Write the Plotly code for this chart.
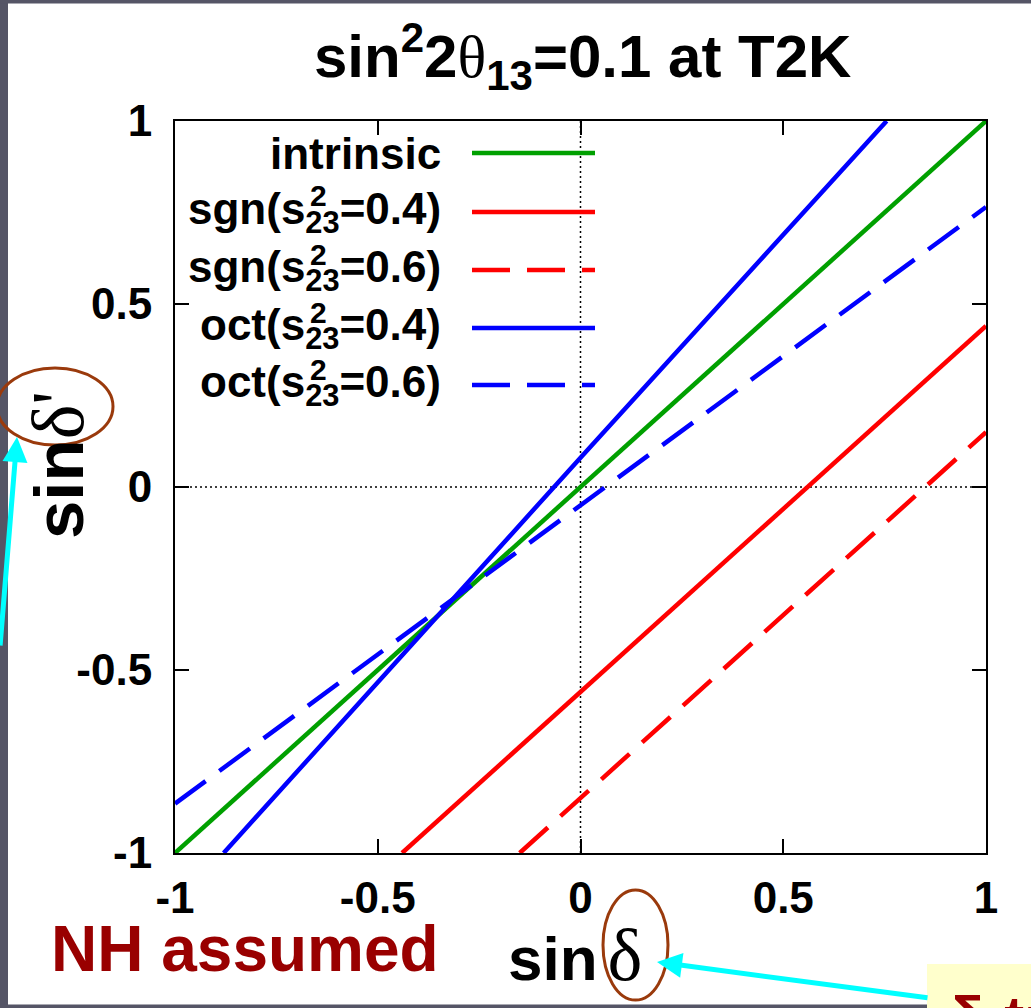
import plotly.graph_objects as go

# ---------------- data ----------------
intrinsic_x = [-1.0, 0.0, 1.0]
intrinsic_y = [-1.0, 0.0, 1.0]

sgn04_x = [-0.44, 0.0, 0.56, 1.0]
sgn04_y = [-1.0, -0.56, 0.0, 0.44]

sgn06_x = [-0.15, 0.0, 0.85, 1.0]
sgn06_y = [-1.0, -0.85, 0.0, 0.15]

oct04_x = [-0.88, -0.35, 0.0, 0.755]
oct04_y = [-1.0, -0.35, 0.08, 1.0]

oct06_x = [-1.0, -0.35, 0.0, 1.0]
oct06_y = [-0.865, -0.335, -0.05, 0.765]

series_names = ["intrinsic", "sgn(s23=0.4)", "sgn(s23=0.6)", "oct(s23=0.4)", "oct(s23=0.6)"]
legend_prefix = ["intrinsic", "sgn(s", "sgn(s", "oct(s", "oct(s"]
legend_suffix = ["", "=0.4)", "=0.6)", "=0.4)", "=0.6)"]

tick_vals = [-1, -0.5, 0, 0.5, 1]
tick_text = ["-1", "-0.5", "0", "0.5", "1"]

# ---------------- styles ----------------
GREEN = "#00a000"
RED = "#ff0000"
BLUE = "#0000ff"
DASH = "38px,17px"
LW = 4.5
colors = [GREEN, RED, RED, BLUE, BLUE]
dashes = ["solid", "solid", DASH, "solid", DASH]

SANS = "Liberation Sans, Arial, sans-serif"

W, H = 1031, 1008
L, R, T, B = 175, 45, 121, 155
PW = W - L - R
PH = H - T - B


def px(x):
    return (x - L) / PW


def py(y):
    return (H - B - y) / PH


xs = [intrinsic_x, sgn04_x, sgn06_x, oct04_x, oct06_x]
ys = [intrinsic_y, sgn04_y, sgn06_y, oct04_y, oct06_y]

fig = go.Figure()
for name, x, y, c, d in zip(series_names, xs, ys, colors, dashes):
    fig.add_trace(go.Scatter(x=x, y=y, mode="lines", name=name, showlegend=False,
                             line=dict(color=c, width=LW, dash=d)))

axis_common = dict(
    range=[-1, 1], tickvals=tick_vals, ticktext=tick_text,
    ticks="inside", ticklen=14, tickwidth=2, tickcolor="black",
    showline=True, linewidth=2, linecolor="black", mirror="allticks",
    showgrid=False, zeroline=False,
    tickfont=dict(family=SANS, size=44, color="black", weight="bold"),
)

shapes = []
# dotted zero lines
shapes.append(dict(type="line", xref="x", yref="y", x0=0, x1=0, y0=-1, y1=1,
                   line=dict(color="black", width=1.5, dash="2px,3px"), layer="below"))
shapes.append(dict(type="line", xref="x", yref="y", x0=-1, x1=1, y0=0, y1=0,
                   line=dict(color="black", width=1.5, dash="2px,3px"), layer="below"))

# legend sample lines
leg_y = [153, 212, 270, 328, 385]
for yy, c, d in zip(leg_y, colors, dashes):
    shapes.append(dict(type="line", xref="paper", yref="paper",
                       x0=px(472), x1=px(595), y0=py(yy), y1=py(yy),
                       line=dict(color=c, width=LW, dash=d), layer="above"))

# slide gray frame
GRAY = "#555566"
shapes.append(dict(type="rect", xref="paper", yref="paper", x0=px(-10), x1=px(8), y0=py(1020), y1=py(-10),
                   fillcolor=GRAY, line=dict(width=0), layer="above"))
shapes.append(dict(type="rect", xref="paper", yref="paper", x0=px(-10), x1=px(1040), y0=py(3.5), y1=py(-10),
                   fillcolor=GRAY, line=dict(width=0), layer="above"))
shapes.append(dict(type="rect", xref="paper", yref="paper", x0=px(-10), x1=px(1040), y0=py(1020), y1=py(1004.5),
                   fillcolor=GRAY, line=dict(width=0), layer="above"))
# yellow box
shapes.append(dict(type="rect", xref="paper", yref="paper", x0=px(927), x1=px(1040), y0=py(1020), y1=py(964),
                   fillcolor="#ffffcc", line=dict(width=0), layer="above"))
# brown ellipses
BROWN = "#9a3a0c"
shapes.append(dict(type="circle", xref="paper", yref="paper", x0=px(-3), x1=px(113), y0=py(445), y1=py(368),
                   line=dict(color=BROWN, width=3), layer="above"))
shapes.append(dict(type="circle", xref="paper", yref="paper", x0=px(603), x1=px(668), y0=py(1000), y1=py(890),
                   line=dict(color=BROWN, width=3), layer="above"))

ann = []
# title
ann.append(dict(xref="paper", yref="paper", x=px(582), y=py(57), xanchor="center", yanchor="middle",
                showarrow=False,
                text="<b>sin<sup>2</sup>2<span style='font-family:Liberation Serif;font-weight:normal'>θ</span>"
                     "<sub>13</sub>=0.1 at T2K</b>",
                font=dict(family=SANS, size=60, color="black")))
# legend text
for i, (pre, suf) in enumerate(zip(legend_prefix, legend_suffix)):
    if suf:
        txt = "<b>" + pre + "<sub>23</sub>" + suf + "</b>"
    else:
        txt = "<b>" + pre + "</b>"
    ann.append(dict(xref="paper", yref="paper", x=px(443), y=py(leg_y[i]), xanchor="right", yanchor="middle",
                    showarrow=False, text=txt, font=dict(family=SANS, size=44, color="black")))
    if suf:
        ann.append(dict(xref="paper", yref="paper", x=px(308), y=py(leg_y[i] - 16), xanchor="left",
                        yanchor="middle", showarrow=False, text="<b>2</b>",
                        font=dict(family=SANS, size=30, color="black")))
# axis titles
ann.append(dict(xref="paper", yref="paper", x=px(506), y=py(955), xanchor="left", yanchor="middle",
                showarrow=False,
                text="<b>sin</b><span style='font-size:36px'> </span>"
                     "<span style='font-family:Liberation Serif;font-size:74px'>δ</span>",
                font=dict(family=SANS, size=62, color="black")))
ann.append(dict(xref="paper", yref="paper", x=px(58), y=py(465), xanchor="center", yanchor="middle",
                showarrow=False, textangle=-90,
                text="<b>sin</b><span style='font-family:Liberation Serif;font-size:74px'>δ'</span>",
                font=dict(family=SANS, size=69, color="black")))
# NH assumed
ann.append(dict(xref="paper", yref="paper", x=px(245), y=py(949), xanchor="center", yanchor="middle",
                showarrow=False, text="<b>NH assumed</b>",
                font=dict(family=SANS, size=64, color="#990000")))
# yellow box text (cut by the page edge)
ann.append(dict(xref="paper", yref="paper", x=px(946), y=py(982), xanchor="left", yanchor="top",
                showarrow=False, text="<b>δ:true</b>",
                font=dict(family=SANS, size=60, color="#990000")))
# cyan arrows
CYAN = "#00ffff"
ann.append(dict(xref="paper", yref="paper", x=px(657), y=py(962), ax=272, ay=36, text="",
                showarrow=True, arrowhead=2, arrowsize=1, arrowwidth=5, arrowcolor=CYAN))
ann.append(dict(xref="paper", yref="paper", x=px(17), y=py(437), ax=-22, ay=210, text="",
                showarrow=True, arrowhead=2, arrowsize=1, arrowwidth=5, arrowcolor=CYAN))

fig.update_layout(
    width=W, height=H, autosize=False,
    margin=dict(l=L, r=R, t=T, b=B, pad=0),
    paper_bgcolor="white", plot_bgcolor="white",
    xaxis=dict(**axis_common, ticklabelstandoff=5),
    yaxis=dict(**axis_common, ticklabelstandoff=12),
    shapes=shapes, annotations=ann, showlegend=False,
)

fig.write_html("out.html", config={"displayModeBar": False},
               post_script="document.body.style.margin='0';document.body.style.overflow='hidden';")
